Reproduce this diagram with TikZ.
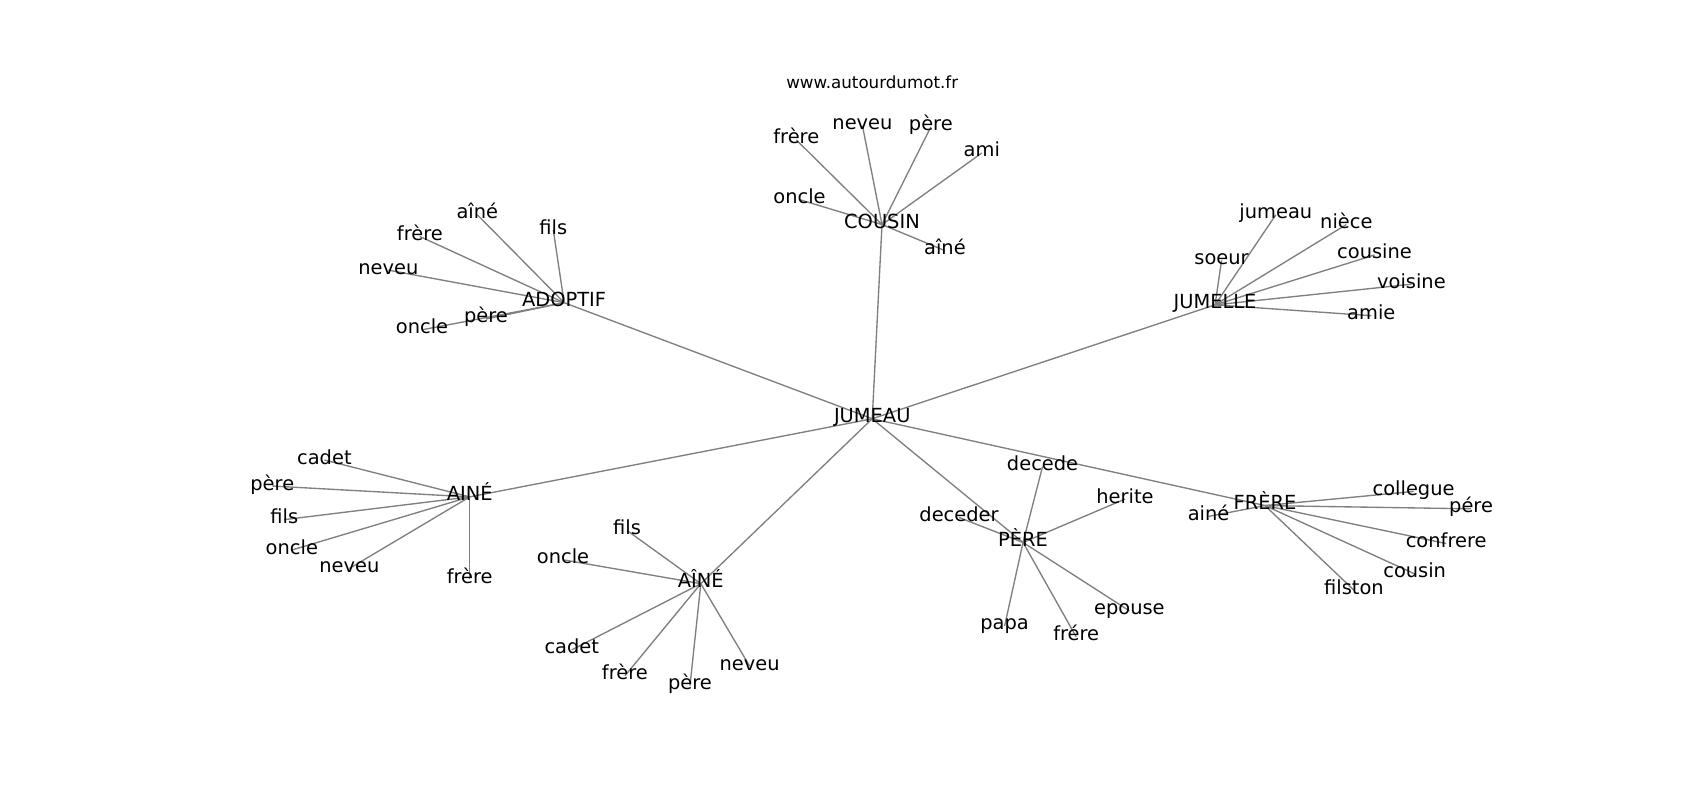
\documentclass[tikz,border=0pt]{standalone}
\usepackage{fontspec}
\setmainfont{DejaVu Sans}
\pgfdeclarelayer{bg}
\pgfsetlayers{bg,main}
\begin{document}
\begin{tikzpicture}[x=1pt,y=-1pt,
  lbl/.style={font=\fontsize{17.9}{20}\selectfont, inner sep=0pt, text height=0.98em, text depth=0.24em, anchor=center},
  ttl/.style={font=\fontsize{15.4}{18}\selectfont, inner sep=0pt, anchor=center},
  edge/.style={draw=gray, line width=1.25pt}]
\useasboundingbox (0,0) rectangle (1567,737.4);
\node[ttl] (title) at (804,76) {www.autourdumot.fr};
% hubs
\node[lbl] (J) at (804,386) {JUMEAU};
\node[lbl] (C) at (813,207) {COUSIN};
\node[lbl] (A) at (520,279) {ADOPTIF};
\node[lbl] (JL) at (1120,281) {JUMELLE};
\node[lbl] (AI) at (433,458) {AINÉ};
\node[lbl] (AC) at (646,538) {AÎNÉ};
\node[lbl] (P) at (943,500) {PÈRE};
\node[lbl] (F) at (1166,466) {FRÈRE};
% COUSIN leaves
\node[lbl] (c1) at (734,129) {frère};
\node[lbl] (c2) at (795,116) {neveu};
\node[lbl] (c3) at (858,117) {père};
\node[lbl] (c4) at (905,141) {ami};
\node[lbl] (c5) at (737,184) {oncle};
\node[lbl] (c6) at (871,231) {aîné};
% ADOPTIF leaves
\node[lbl] (a1) at (440,198) {aîné};
\node[lbl] (a2) at (387,218) {frère};
\node[lbl] (a3) at (510,212) {fils};
\node[lbl] (a4) at (358,249) {neveu};
\node[lbl] (a5) at (448,294) {père};
\node[lbl] (a6) at (389,304) {oncle};
% JUMELLE leaves
\node[lbl] (j1) at (1176,198) {jumeau};
\node[lbl] (j2) at (1241,207) {nièce};
\node[lbl] (j3) at (1126,240) {soeur};
\node[lbl] (j4) at (1267,235) {cousine};
\node[lbl] (j5) at (1301,262) {voisine};
\node[lbl] (j6) at (1264,291) {amie};
% AINÉ leaves
\node[lbl] (i1) at (299,424) {cadet};
\node[lbl] (i2) at (251,448) {père};
\node[lbl] (i3) at (262,479) {fils};
\node[lbl] (i4) at (269,507) {oncle};
\node[lbl] (i5) at (322,524) {neveu};
\node[lbl] (i6) at (433,534) {frère};
% AÎNÉ leaves
\node[lbl] (k1) at (578,489) {fils};
\node[lbl] (k2) at (519,516) {oncle};
\node[lbl] (k3) at (527,599) {cadet};
\node[lbl] (k4) at (576,623) {frère};
\node[lbl] (k5) at (636,632) {père};
\node[lbl] (k6) at (691,614) {neveu};
% PÈRE leaves
\node[lbl] (p1) at (961,430) {decede};
\node[lbl] (p2) at (1037,460) {herite};
\node[lbl] (p3) at (884,477) {deceder};
\node[lbl] (p4) at (926,577) {papa};
\node[lbl] (p5) at (992,587) {frére};
\node[lbl] (p6) at (1041,563) {epouse};
% FRÈRE leaves
\node[lbl] (f1) at (1303,453) {collegue};
\node[lbl] (f2) at (1356,469) {pére};
\node[lbl] (f3) at (1114,476) {ainé};
\node[lbl] (f4) at (1333,501) {confrere};
\node[lbl] (f5) at (1304,529) {cousin};
\node[lbl] (f6) at (1248,544) {filston};
\begin{pgfonlayer}{bg}
\foreach \h in {C,A,JL,AI,AC,P,F} \draw[edge] (J.center) -- (\h.center);
\foreach \l in {c1,c2,c3,c4,c5,c6} \draw[edge] (C.center) -- (\l.center);
\foreach \l in {a1,a2,a3,a4,a5,a6} \draw[edge] (A.center) -- (\l.center);
\foreach \l in {j1,j2,j3,j4,j5,j6} \draw[edge] (JL.center) -- (\l.center);
\foreach \l in {i1,i2,i3,i4,i5,i6} \draw[edge] (AI.center) -- (\l.center);
\foreach \l in {k1,k2,k3,k4,k5,k6} \draw[edge] (AC.center) -- (\l.center);
\foreach \l in {p1,p2,p3,p4,p5,p6} \draw[edge] (P.center) -- (\l.center);
\foreach \l in {f1,f2,f3,f4,f5,f6} \draw[edge] (F.center) -- (\l.center);
\end{pgfonlayer}
\end{tikzpicture}
\end{document}
